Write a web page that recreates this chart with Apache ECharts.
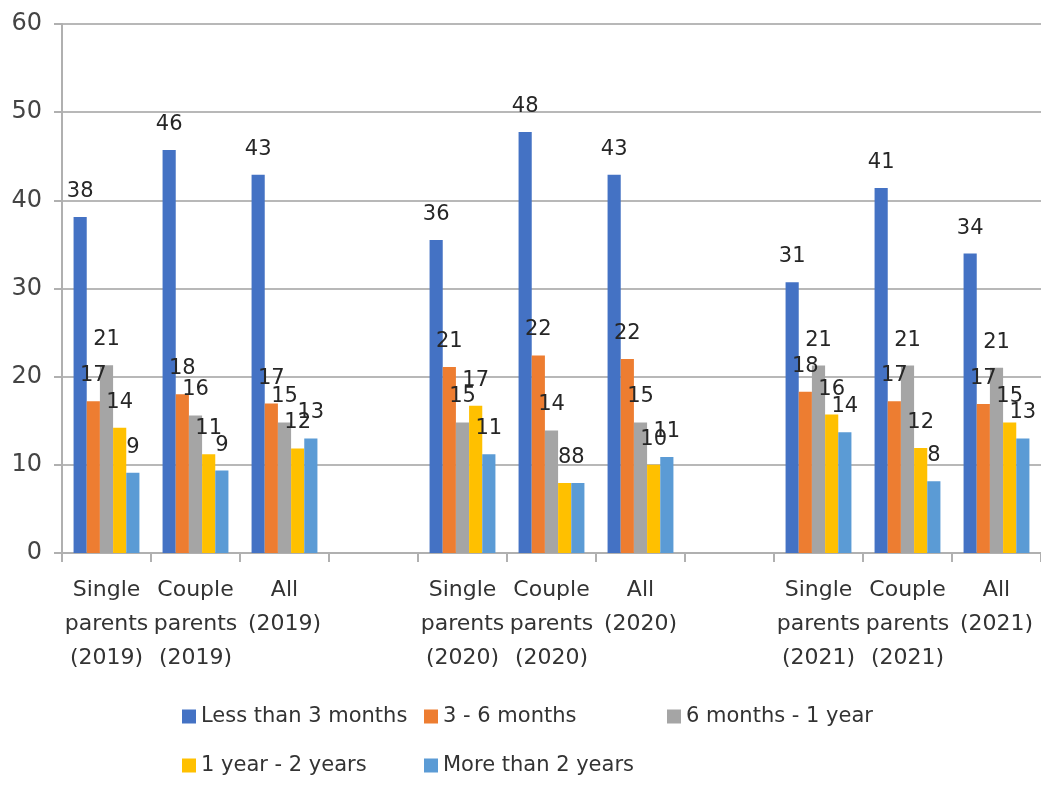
<!DOCTYPE html>
<html>
<head>
<meta charset="utf-8">
<script src="https://cdn.jsdelivr.net/npm/echarts@6/dist/echarts.min.js"></script>
<style>
html,body{margin:0;padding:0;background:#fff;}
#chart{width:1041px;height:791px;}
</style>
</head>
<body>
<div id="chart"></div>
<script>
var categories = ['Single\nparents\n(2019)','Couple\nparents\n(2019)','All\n(2019)','',
  'Single\nparents\n(2020)','Couple\nparents\n(2020)','All\n(2020)','',
  'Single\nparents\n(2021)','Couple\nparents\n(2021)','All\n(2021)'];
var seriesNames = ['Less than 3 months','3 - 6 months','6 months - 1 year','1 year - 2 years','More than 2 years'];
var lessThan3m = [38.1, 45.7, 42.9, null, 35.5, 47.75, 42.9, null, 30.7, 41.4, 33.96];
var m3to6 = [17.2, 18.0, 16.95, null, 21.1, 22.4, 22.0, null, 18.3, 17.2, 16.9];
var m6to1y = [21.3, 15.6, 14.8, null, 14.8, 13.9, 14.8, null, 21.26, 21.26, 21.0];
var y1to2 = [14.2, 11.2, 11.85, null, 16.7, 7.95, 10.0, null, 15.7, 11.9, 14.8];
var moreThan2y = [9.1, 9.35, 13.0, null, 11.2, 7.95, 10.9, null, 13.7, 8.15, 13.0];
var yTicks = [0, 10, 20, 30, 40, 50, 60];

var colors = ['#4472C4','#ED7D31','#A5A5A5','#FFC000','#5B9BD5'];
var values = [lessThan3m, m3to6, m6to1y, y1to2, moreThan2y];
var font = 'DejaVu Sans';

var chart = echarts.init(document.getElementById('chart'));
var series = seriesNames.map(function(n, i){
  return {
    name: n, type: 'bar', data: values[i],
    barGap: 0, barCategoryGap: '26%',
    itemStyle: {color: colors[i]},
    label: {show: true, position: 'top', distance: 15, color: '#262626', fontFamily: font, fontSize: 21,
      formatter: function(p){ return p.value == null ? '' : Math.round(p.value); }}
  };
});
var legendPos = [[177,701],[419,701],[662,701],[177,750],[419,750]];
var legends = seriesNames.map(function(n, i){
  return {
    data: [n], left: legendPos[i][0], top: legendPos[i][1],
    icon: 'rect', itemWidth: 14, itemHeight: 14, itemGap: 0,
    textStyle: {fontFamily: font, fontSize: 21, color: '#333'}
  };
});
chart.setOption({
  animation: false,
  color: colors,
  legend: legends,
  grid: {left: 62, right: -5, top: 24, bottom: 238, containLabel: false},
  xAxis: {
    type: 'category', data: categories,
    axisLine: {show: true, lineStyle: {color: '#b0b0b0', width: 2}},
    axisTick: {show: true, length: 9, lineStyle: {color: '#b0b0b0', width: 2}},
    axisLabel: {interval: 0, margin: 20, fontFamily: font, fontSize: 22, lineHeight: 34, color: '#333'}
  },
  yAxis: {
    type: 'value', min: yTicks[0], max: yTicks[yTicks.length-1], interval: 10,
    axisLine: {show: true, lineStyle: {color: '#b0b0b0', width: 2}},
    axisTick: {show: true, length: 8, lineStyle: {color: '#b0b0b0', width: 2}},
    splitLine: {show: true, lineStyle: {color: '#b8b8b8', width: 2}},
    axisLabel: {margin: 20, fontFamily: font, fontSize: 24, color: '#444'}
  },
  series: series
});
</script>
</body>
</html>
